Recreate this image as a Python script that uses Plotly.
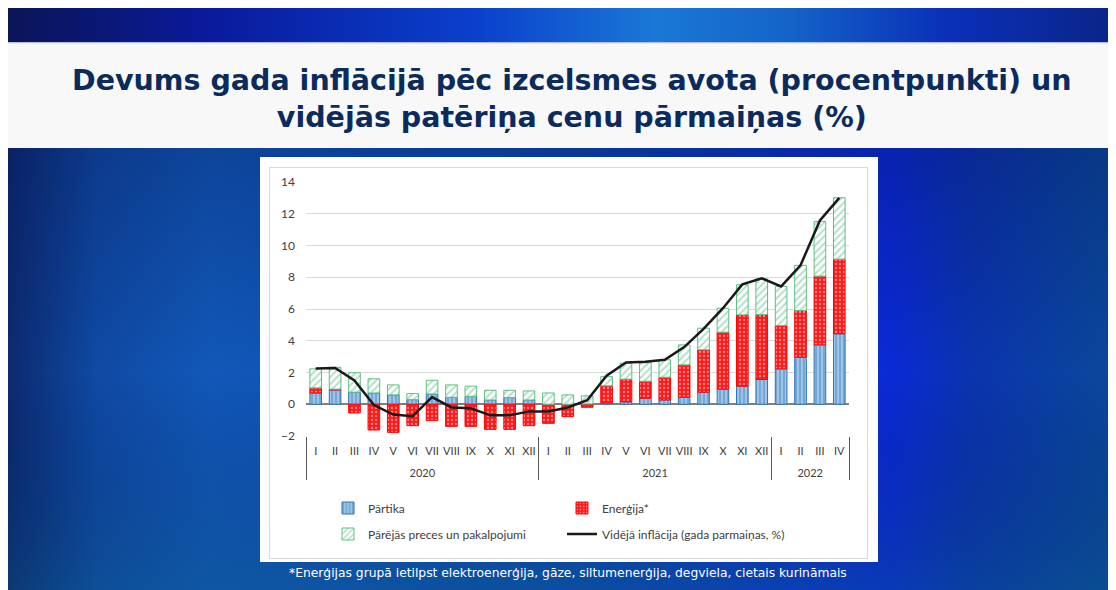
import plotly.graph_objects as go
from urllib.parse import quote

# ---- data ----
years = ["2020"] * 12 + ["2021"] * 12 + ["2022"] * 4
months = ["I", "II", "III", "IV", "V", "VI", "VII", "VIII", "IX", "X", "XI", "XII",
          "I", "II", "III", "IV", "V", "VI", "VII", "VIII", "IX", "X", "XI", "XII",
          "I", "II", "III", "IV"]
food = [0.71, 0.90, 0.76, 0.71, 0.59, 0.29, 0.65, 0.44, 0.50, 0.27, 0.42, 0.27,
        0.00, 0.00, 0.02, 0.08, 0.15, 0.38, 0.27, 0.44, 0.76, 0.95, 1.14, 1.56,
        2.23, 2.96, 3.74, 4.44]
energy = [0.32, 0.05, -0.55, -1.62, -1.77, -1.35, -1.03, -1.39, -1.39, -1.58, -1.58, -1.35,
          -1.20, -0.78, -0.19, 1.08, 1.43, 1.07, 1.43, 2.04, 2.67, 3.59, 4.49, 4.09,
          2.73, 2.95, 4.33, 4.70]
other = [1.20, 1.38, 1.22, 0.89, 0.63, 0.38, 0.86, 0.78, 0.64, 0.61, 0.46, 0.57,
         0.71, 0.59, 0.51, 0.58, 1.01, 1.16, 1.10, 1.26, 1.36, 1.51, 1.90, 2.25,
         2.46, 2.84, 3.45, 3.87]
inflation = [2.25, 2.28, 1.50, -0.05, -0.65, -0.75, 0.45, -0.20, -0.25, -0.70, -0.70, -0.45,
             -0.45, -0.20, 0.25, 1.80, 2.63, 2.67, 2.80, 3.60, 4.75, 6.05, 7.55, 7.93,
             7.42, 8.75, 11.58, 13.00]

names = ["Pārtika", "Enerģija*", "Pārējās preces un pakalpojumi",
         "Vidējā inflācija (gada parmaiņas, %)"]
title_text = "Devums gada inflācijā pēc izcelsmes avota (procentpunkti) un<br>vidējās patēriņa cenu pārmaiņas (%)"
footnote = "*Enerģijas grupā ietilpst elektroenerģija, gāze, siltumenerģija, degviela, cietais kurināmais"
y_ticks = [-2, 0, 2, 4, 6, 8, 10, 12, 14]

# ---- geometry helpers (screen pixel -> paper); page body has an 8px margin ----
OX, OY = 8, 8
W, H = 1116, 590
ML, MR, MT, MB = 306 - OX, W - (849 - OX), 182 - OY, H - (436 - OY)
PW, PH = W - ML - MR, H - MT - MB


def xp(px):
    return (px - OX - ML) / PW


def yp(py):
    return (H - MB - (py - OY)) / PH


def fx(px):
    return px - OX


def fy(py):
    return py - OY


# ---- background (decorative) ----
svg = f"""<svg xmlns='http://www.w3.org/2000/svg' width='{W}' height='{H}' viewBox='0 0 {W} {H}' preserveAspectRatio='none'>
<defs>
<linearGradient id='t' x1='0' x2='1' y1='0' y2='0'>
<stop offset='0' stop-color='#0a1556'/><stop offset='0.18' stop-color='#0a1a9c'/>
<stop offset='0.42' stop-color='#0a40cc'/><stop offset='0.58' stop-color='#1a78d6'/>
<stop offset='0.70' stop-color='#1464c8'/><stop offset='0.84' stop-color='#0a30b8'/>
<stop offset='1' stop-color='#0a2486'/></linearGradient>
<linearGradient id='b' x1='0' x2='1' y1='0' y2='0'>
<stop offset='0' stop-color='#0c2a70'/><stop offset='0.08' stop-color='#0f4aa4'/>
<stop offset='0.18' stop-color='#1158b8'/><stop offset='0.5' stop-color='#0b4ab0'/>
<stop offset='0.79' stop-color='#0a2ad6'/><stop offset='0.86' stop-color='#0a34b0'/>
<stop offset='1' stop-color='#0a4a98'/></linearGradient>
<linearGradient id='v' x1='0' x2='0' y1='0' y2='1'>
<stop offset='0' stop-color='#000a40' stop-opacity='0.25'/><stop offset='0.5' stop-color='#000a40' stop-opacity='0'/>
<stop offset='1' stop-color='#0a5a80' stop-opacity='0.35'/></linearGradient>
</defs>
<rect width='{W}' height='{H}' fill='#ffffff'/>
<rect x='0' y='0' width='{W}' height='{fy(42)}' fill='url(#t)'/>
<rect x='0' y='{fy(42)}' width='{W}' height='1.5' fill='#b4bce0'/>
<rect x='0' y='{fy(43.5)}' width='{W}' height='104.5' fill='#f8f8f8'/>
<rect x='0' y='{fy(148)}' width='{W}' height='{H}' fill='url(#b)'/>
<rect x='0' y='{fy(148)}' width='{W}' height='{H - fy(148)}' fill='url(#v)'/>
<rect x='{fx(260)}' y='{fy(157)}' width='618' height='405' fill='#ffffff'/>
<rect x='{fx(269.5)}' y='{fy(167.5)}' width='598' height='391' fill='none' stroke='#d9d9d9' stroke-width='1'/>
</svg>"""
bg_src = "data:image/svg+xml;charset=utf-8," + quote(svg)

# year labels get a blank first line so they sit lower, as in the original
year_labels = ["\u00a0<br>" + y for y in years]
x = [year_labels, months]

fig = go.Figure()
fig.add_trace(go.Bar(
    x=x, y=food, name=names[0], legend="legend", legendgroup="a",
    marker=dict(color="#9dc3e6", line=dict(color="#2e75b6", width=1),
                pattern=dict(shape="|", fgcolor="#2e75b6", bgcolor="#9dc3e6", size=4, solidity=0.35)),
))
fig.add_trace(go.Bar(
    x=x, y=energy, name=names[1], legend="legend2", legendgroup="b",
    marker=dict(color="#ff2020", line=dict(color="#ff0000", width=1),
                pattern=dict(shape=".", fgcolor="#ffffff", bgcolor="#ff1a1a", size=4, solidity=0.25)),
))
fig.add_trace(go.Bar(
    x=x, y=other, name=names[2], legend="legend", legendgroup="c",
    marker=dict(color="#ffffff", line=dict(color="#5cbf84", width=1),
                pattern=dict(shape="/", fgcolor="#5cbf84", bgcolor="#ffffff", size=5, solidity=0.35)),
))
fig.add_trace(go.Scatter(
    x=x, y=inflation, name=names[3], legend="legend2", legendgroup="d",
    mode="lines", line=dict(color="#1a1a1a", width=2.5),
))

leg_common = dict(
    font=dict(family="Lato, Open Sans, sans-serif", size=12, color="#404040"),
    bgcolor="rgba(0,0,0,0)", orientation="v", traceorder="grouped",
    tracegroupgap=7, itemwidth=30, yanchor="middle", xanchor="left",
)

fig.update_layout(
    width=W, height=H,
    margin=dict(l=ML, r=MR, t=MT, b=MB, pad=0),
    paper_bgcolor="#ffffff", plot_bgcolor="rgba(0,0,0,0)",
    barmode="relative", bargap=0.4,
    showlegend=True,
    legend=dict(x=xp(328), y=yp(521), **leg_common),
    legend2=dict(x=xp(562), y=yp(521), **leg_common),
    images=[dict(source=bg_src, xref="paper", yref="paper",
                 x=xp(OX), y=yp(OY), sizex=W / PW, sizey=H / PH,
                 xanchor="left", yanchor="top", sizing="stretch", layer="below")],
    xaxis=dict(
        type="multicategory", showgrid=False, showline=False, zeroline=False,
        ticks="", showdividers=True, dividercolor="#595959", dividerwidth=1,
        tickangle=0, ticklabelstandoff=7,
        tickfont=dict(family="Lato, Open Sans, sans-serif", size=11, color="#404040"),
    ),
    yaxis=dict(
        range=[-2, 14], tickvals=y_ticks, showgrid=True, gridcolor="#d9d9d9", gridwidth=1,
        zeroline=True, zerolinecolor="#7f7f7f", zerolinewidth=1.5, showline=False,
        ticks="", ticklabelstandoff=10,
        tickfont=dict(family="Lato, Open Sans, sans-serif", size=12, color="#404040"),
    ),
    annotations=[
        dict(text="<b>" + title_text + "</b>", xref="paper", yref="paper",
             x=xp(572), y=yp(99.5), xanchor="center", yanchor="middle", showarrow=False,
             font=dict(family="DejaVu Sans, Verdana, sans-serif", size=28.5, color="#0b2b5e")),
        dict(text=footnote, xref="paper", yref="paper",
             x=xp(568), y=yp(573), xanchor="center", yanchor="middle", showarrow=False,
             font=dict(family="DejaVu Sans, Verdana, sans-serif", size=12.3, color="#ffffff")),
    ],
)

fig.write_html("out.html")
